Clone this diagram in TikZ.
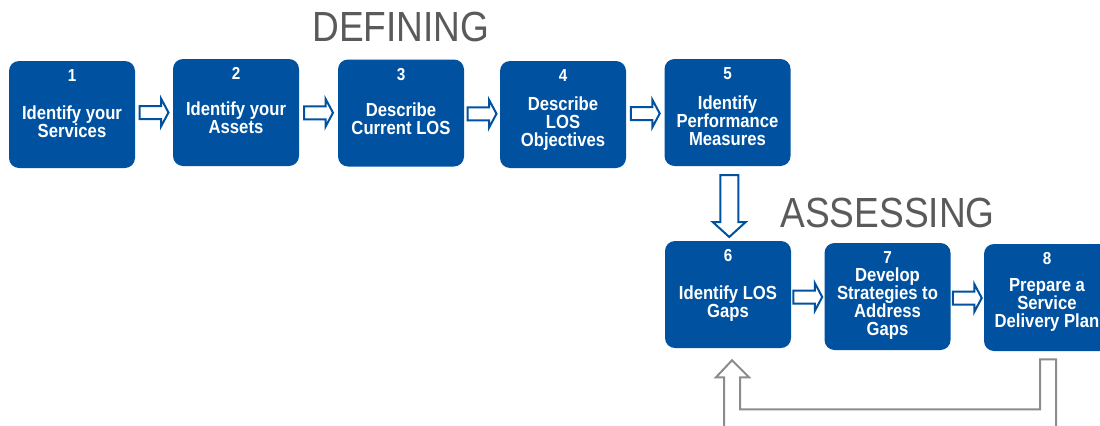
\documentclass[tikz,border=0pt]{standalone}
\usepackage{fontspec}
\setmainfont{Liberation Sans}
\newfontfamily\narrowsans[FakeStretch=0.88]{Liberation Sans}
\usetikzlibrary{calc}
\definecolor{stepblue}{RGB}{0,82,160}
\definecolor{titlegray}{RGB}{90,90,90}
\definecolor{loopgray}{RGB}{140,140,140}

\begin{document}
\begin{tikzpicture}[x=0.75pt,y=-0.75pt,
  stepbox/.style={draw=none, fill=stepblue, rounded corners=7.5pt,
    minimum width=94.5pt, minimum height=80.25pt, inner sep=0pt},
  stepnum/.style={text=white, inner sep=0pt,
    font=\narrowsans\bfseries\fontsize{13}{13}\selectfont},
  steptext/.style={text=white, align=center, inner sep=0pt,
    font=\narrowsans\bfseries\fontsize{14.2}{13.5}\selectfont},
  phase/.style={text=titlegray, inner sep=0pt,
    font=\narrowsans\fontsize{31.6}{32}\selectfont},
  blockarrow/.style={draw=stepblue, fill=white, line width=1.5pt, line join=miter},
  looparrow/.style={draw=loopgray, fill=white, line width=1.5pt, line join=miter},
  pics/rblock/.style={code={
    \draw[blockarrow] (-14.5,-6.5) -- (7,-6.5) -- (7,-14) -- (14.5,0)
      -- (7,14) -- (7,6.5) -- (-14.5,6.5) -- cycle;}},
  pics/dblock/.style={code={
    \draw[blockarrow] (-9,-31) -- (9,-31) -- (9,16) -- (16.5,16) -- (0,31)
      -- (-16.5,16) -- (-9,16) -- cycle;}}
]
\clip (0,0) rectangle (1100,425);

% phase headings
\node[phase] (defining) at (401,27) {DEFINING};
\node[phase] (assessing) at (887.5,212.5) {ASSESSING};

% step boxes
\node[stepbox] (b1) at (72,114.5) {};
\node[stepbox] (b2) at (236,112.5) {};
\node[stepbox] (b3) at (401,113) {};
\node[stepbox] (b4) at (563,114.5) {};
\node[stepbox] (b5) at (727.5,112.5) {};
\node[stepbox] (b6) at (728,294.5) {};
\node[stepbox] (b7) at (887.5,296.5) {};
\node[stepbox] (b8) at (1047,297.5) {};

% step numbers
\foreach \i in {1,...,8}
  \node[stepnum] (n\i) at ($(b\i.north)+(0,15)$) {\i};

% step descriptions
\node[steptext] (t1) at ($(b1.center)+(0,7)$) {Identify your\\Services};
\node[steptext] (t2) at ($(b2.center)+(0,5)$) {Identify your\\Assets};
\node[steptext] (t3) at ($(b3.center)+(0,6)$) {Describe\\Current LOS};
\node[steptext] (t4) at ($(b4.center)+(0,9)$) {Describe\\LOS\\Objectives};
\node[steptext] (t5) at ($(b5.center)+(0,8.5)$) {Identify\\Performance\\Measures};
\node[steptext] (t6) at ($(b6.center)+(0,9.5)$) {Identify LOS\\Gaps};
\node[steptext] (t7) at ($(b7.center)+(0,7.5)$) {Develop\\Strategies to\\Address\\Gaps};
\node[steptext] (t8) at ($(b8.center)+(0,7.5)$) {Prepare a\\Service\\Delivery Plan};

% hollow block arrows between the steps
\pic at ($(b1.east)!0.5!(b2.west)+(0,-1)$) {rblock};
\pic at ($(b2.east)!0.5!(b3.west)$) {rblock};
\pic at ($(b3.east)!0.5!(b4.west)$) {rblock};
\pic at ($(b4.east)!0.5!(b5.west)$) {rblock};
\pic at ($(b5.south)!0.5!(b6.north)+(1.5,2.5)$) {dblock};
\pic at ($(b6.east)!0.5!(b7.west)+(0,1.5)$) {rblock};
\pic at ($(b7.east)!0.5!(b8.west)+(0,1)$) {rblock};

% feedback loop from step 8 back to step 6
\coordinate (lt) at ($(b6.south)+(4,12)$);
\coordinate (ls) at ($(b8.south)+(1,8)$);
\draw[looparrow] (lt) -- ++(17,17) -- ++(-9,0) |- ($(ls)+(-8,50)$)
  -- ($(ls)+(-8,0)$) -- ($(ls)+(8,0)$) -- ++(0,90)
  -| ($(lt)+(-8,17)$) -- ++(-8,0) -- cycle;
\end{tikzpicture}
\end{document}
